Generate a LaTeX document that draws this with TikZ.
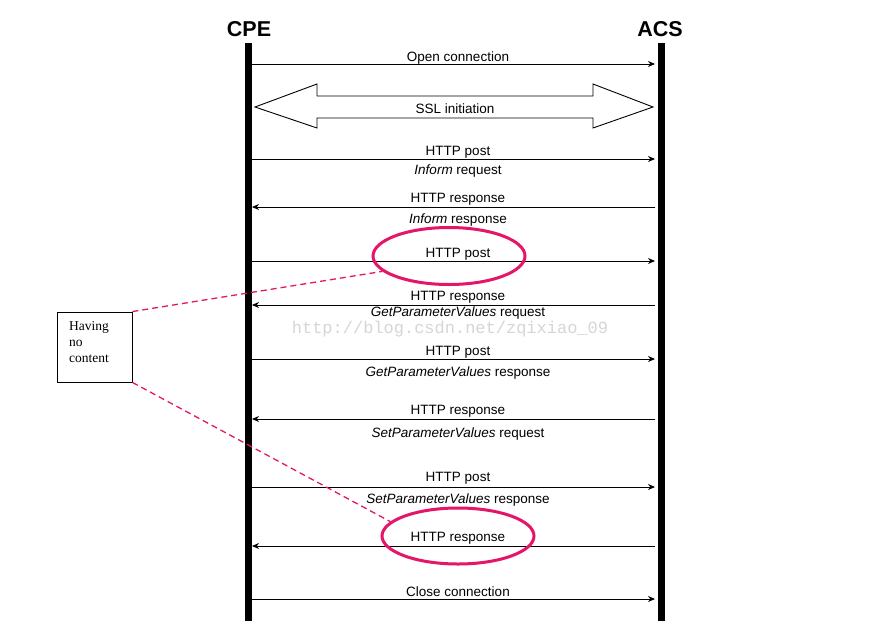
\documentclass[tikz,border=0pt]{standalone}
\usepackage{fontspec}
\setmainfont{Liberation Sans}
\newfontfamily\serifbox{Liberation Serif}
\newfontfamily\wmfont{Liberation Mono}
\usetikzlibrary{arrows.meta,shapes.geometric}
\definecolor{hl}{HTML}{E5156A}
\definecolor{wm}{HTML}{D6D6D6}
\begin{document}
\begin{tikzpicture}[x=1pt,y=-1pt,
  lbl/.style={font=\fontsize{13.5}{15}\selectfont, inner sep=0pt, yshift=-1.5pt},
  ttl/.style={font=\fontsize{21.5}{24}\selectfont\bfseries, inner sep=0pt},
  life/.style={line width=7pt},
  msg/.style={line width=0.9pt, -{Stealth[length=7pt,width=6pt]}},
  hlring/.style={draw=hl, line width=3pt, ellipse},
  lead/.style={draw=hl, line width=1.3pt, dash pattern=on 6pt off 4pt}]
\useasboundingbox (0,0) rectangle (888,635);
\fill[white] (0,0) rectangle (888,635);
% titles and lifelines
\node[ttl] (cpe) at (249,29) {CPE};
\node[ttl] (acs) at (660,29) {ACS};
\coordinate (cpeT) at (248,43); \coordinate (cpeB) at (248,621);
\coordinate (acsT) at (661,43); \coordinate (acsB) at (661,621);
\draw[life] (cpeT) -- (cpeB);
\draw[life] (acsT) -- (acsB);
% rows
\foreach \n/\y in {a/64,b/159,c/207,d/261,e/305,f/359,g/419,h/487,i/546,j/599}{
  \coordinate (L\n) at (252,\y);
  \coordinate (R\n) at (655,\y);
}
\draw[msg] (La) -- (Ra);
\node[lbl] (ta) at (458,57) {Open connection};
% SSL
\draw[line width=0.9pt] (255,107) -- (317,84) -- (317,96) -- (593,96) -- (593,84) -- (653,107)
  -- (593,128) -- (593,118) -- (317,118) -- (317,128) -- cycle;
\node[lbl] (ssl) at (455,107) {SSL initiation};
% messages
\draw[msg] (Lb) -- (Rb);
\node[lbl] (tb1) at (458,151) {HTTP post};
\node[lbl] (tb2) at (458,170) {\textit{Inform} request};
\draw[msg] (Rc) -- (Lc);
\node[lbl] (tc1) at (458,198) {HTTP response};
\node[lbl] (tc2) at (458,219) {\textit{Inform} response};
\draw[msg] (Ld) -- (Rd);
\node[lbl] (td1) at (458,253) {HTTP post};
\draw[msg] (Re) -- (Le);
\node[lbl] (te1) at (458,296) {HTTP response};
\node[lbl] (te2) at (458,311.5) {\textit{GetParameterValues} request};
\draw[msg] (Lf) -- (Rf);
\node[lbl] (tf1) at (458,351) {HTTP post};
\node[lbl] (tf2) at (458,372) {\textit{GetParameterValues} response};
\draw[msg] (Rg) -- (Lg);
\node[lbl] (tg1) at (458,410) {HTTP response};
\node[lbl] (tg2) at (458,433) {\textit{SetParameterValues} request};
\draw[msg] (Lh) -- (Rh);
\node[lbl] (th1) at (458,477) {HTTP post};
\node[lbl] (th2) at (458,498) {\textit{SetParameterValues} response};
\draw[msg] (Ri) -- (Li);
\node[lbl] (ti1) at (458,537) {HTTP response};
\draw[msg] (Lj) -- (Rj);
\node[lbl] (tj1) at (458,590) {Close connection};
% watermark
\node[inner sep=0pt, text=wm, font=\wmfont\fontsize{17}{19}\selectfont] (wmk) at (450,329) {http://blog.csdn.net/zqixiao\_09};
% highlights
\node[hlring, minimum width=152pt, minimum height=57pt, inner sep=0pt] (e1) at (449,256) {};
\node[hlring, minimum width=152pt, minimum height=56pt, inner sep=0pt] (e2) at (458,536) {};
% note box
\node[draw, line width=0.9pt, minimum width=75pt, minimum height=70pt, inner sep=0pt] (note) at (94.5,347) {};
\node[anchor=north west, inner sep=0pt, align=left, font=\serifbox\fontsize{13.5}{16}\selectfont] (notetxt) at (69,321) {Having\\no\\content};
\draw[lead] (note.north east) -- (e1.193);
\draw[lead] (note.south east) -- (e2.168);
\end{tikzpicture}
\end{document}
